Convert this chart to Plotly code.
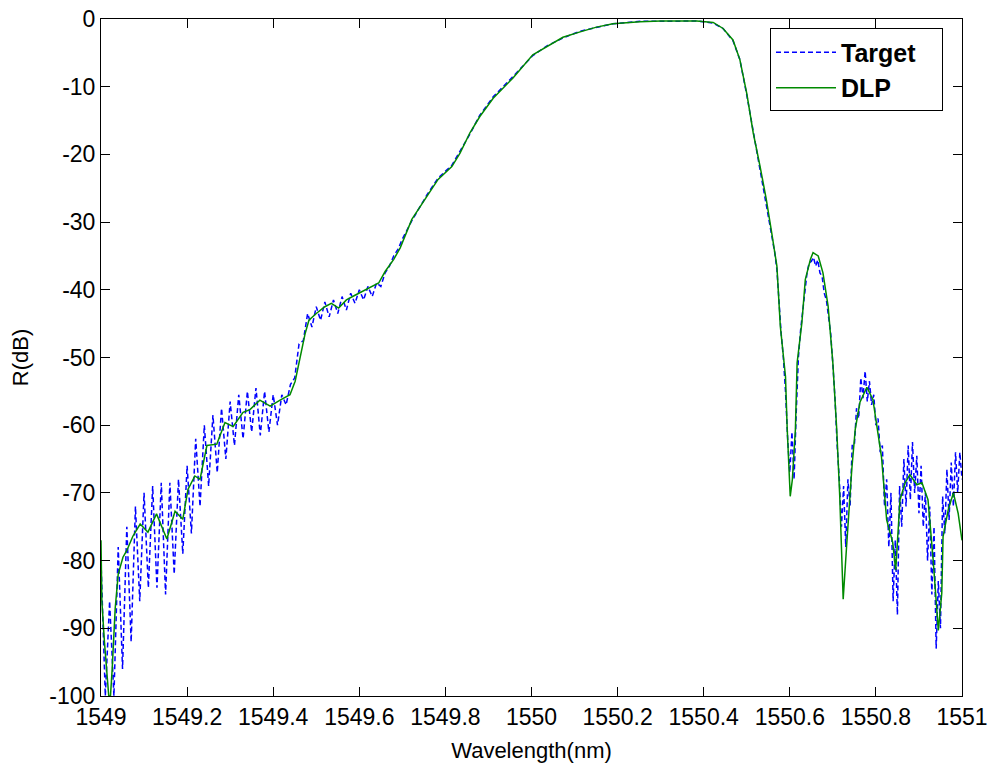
import plotly.graph_objects as go

# ---------------- data ----------------
dlp_wl = [
    1549.000, 1549.002, 1549.008, 1549.018, 1549.022, 1549.026, 1549.033, 1549.040,
    1549.051, 1549.060, 1549.074, 1549.091, 1549.109, 1549.129, 1549.153, 1549.172,
    1549.190, 1549.202, 1549.218, 1549.230, 1549.246, 1549.269, 1549.288, 1549.307,
    1549.330, 1549.346, 1549.369, 1549.393, 1549.416, 1549.439, 1549.451, 1549.462,
    1549.474, 1549.483, 1549.500, 1549.520, 1549.535, 1549.552, 1549.570, 1549.590,
    1549.615, 1549.645, 1549.660, 1549.680, 1549.695, 1549.722, 1549.757, 1549.783,
    1549.815, 1549.834, 1549.857, 1549.880, 1549.911, 1549.957, 1550.003, 1550.035,
    1550.073, 1550.113, 1550.151, 1550.189, 1550.252, 1550.300, 1550.384, 1550.422,
    1550.445, 1550.468, 1550.484, 1550.500, 1550.515, 1550.531, 1550.545, 1550.558,
    1550.570, 1550.578, 1550.590, 1550.594, 1550.601, 1550.606, 1550.613, 1550.617,
    1550.628, 1550.636, 1550.648, 1550.654, 1550.666, 1550.677, 1550.689, 1550.700,
    1550.709, 1550.716, 1550.724, 1550.732, 1550.744, 1550.752, 1550.763, 1550.779,
    1550.793, 1550.813, 1550.825, 1550.839, 1550.846, 1550.856, 1550.868, 1550.879,
    1550.895, 1550.907, 1550.921, 1550.933, 1550.942, 1550.945, 1550.953, 1550.956,
    1550.968, 1550.980, 1550.991, 1551.000,
]
dlp_db = [
    -77.0, -86.0, -92.0, -100.0, -100.0, -96.0, -87.0, -82.0,
    -79.5, -78.5, -76.4, -74.6, -75.8, -73.1, -76.8, -72.7,
    -73.9, -69.5, -67.5, -68.0, -63.0, -62.8, -59.6, -60.2,
    -58.1, -57.7, -56.3, -57.2, -56.3, -55.5, -53.5, -50.0,
    -46.5, -44.5, -43.5, -42.5, -42.0, -42.7, -41.5, -40.8,
    -40.0, -39.0, -37.3, -35.5, -33.8, -29.6, -26.2, -23.7,
    -21.8, -19.8, -16.8, -14.4, -11.7, -8.7, -5.3, -4.1,
    -2.7, -1.9, -1.2, -0.7, -0.4, -0.3, -0.3, -0.5,
    -1.4, -3.1, -6.0, -11.0, -16.8, -21.8, -26.5, -31.6,
    -36.5, -45.4, -52.8, -60.6, -70.5, -68.0, -60.6, -50.8,
    -44.9, -38.5, -35.5, -34.5, -35.0, -37.5, -42.4, -50.8,
    -60.6, -70.5, -85.7, -77.8, -66.5, -60.6, -56.6, -54.4,
    -56.2, -64.7, -74.0, -77.3, -81.4, -71.0, -68.5, -67.3,
    -68.8, -68.5, -71.0, -79.9, -88.3, -90.3, -84.8, -76.5,
    -72.5, -70.0, -73.0, -77.0,
]

target_wl = [
    1549.00, 1549.01, 1549.02, 1549.03, 1549.04, 1549.05, 1549.06, 1549.07, 1549.08, 1549.09,
    1549.10, 1549.11, 1549.12, 1549.13, 1549.14, 1549.15, 1549.16, 1549.17, 1549.18, 1549.19,
    1549.20, 1549.21, 1549.22, 1549.23, 1549.24, 1549.25, 1549.26, 1549.27, 1549.28, 1549.29,
    1549.30, 1549.31, 1549.32, 1549.33, 1549.34, 1549.35, 1549.36, 1549.37, 1549.38, 1549.39,
    1549.40, 1549.41, 1549.42, 1549.43, 1549.44, 1549.45, 1549.46, 1549.47, 1549.48, 1549.49,
    1549.50, 1549.51, 1549.52, 1549.53, 1549.54, 1549.55, 1549.56, 1549.57, 1549.58, 1549.59,
    1549.60, 1549.61, 1549.62, 1549.63, 1549.64, 1549.65, 1549.66, 1549.67, 1549.68, 1549.69,
    1549.70,
    1549.722, 1549.757, 1549.783, 1549.815, 1549.834, 1549.857, 1549.880, 1549.911, 1549.957,
    1550.003, 1550.035, 1550.073, 1550.113, 1550.151, 1550.189, 1550.252, 1550.300, 1550.384,
    1550.422, 1550.445, 1550.468, 1550.484, 1550.500, 1550.515, 1550.531, 1550.545,
    1550.560, 1550.565, 1550.570, 1550.575, 1550.580, 1550.585, 1550.590, 1550.595, 1550.600,
    1550.605, 1550.610, 1550.615, 1550.620, 1550.625, 1550.630, 1550.635, 1550.640, 1550.645,
    1550.650, 1550.655, 1550.660, 1550.665, 1550.670, 1550.675, 1550.680, 1550.685, 1550.690,
    1550.695, 1550.700, 1550.705, 1550.710, 1550.715, 1550.720, 1550.725, 1550.730, 1550.735,
    1550.740, 1550.745, 1550.750, 1550.755, 1550.760, 1550.765, 1550.770, 1550.775, 1550.780,
    1550.785, 1550.790, 1550.795, 1550.800, 1550.805, 1550.810, 1550.815, 1550.820, 1550.825,
    1550.830, 1550.835, 1550.840, 1550.845, 1550.850, 1550.855, 1550.860, 1550.865, 1550.870,
    1550.875, 1550.880, 1550.885, 1550.890, 1550.895, 1550.900, 1550.905, 1550.910, 1550.915,
    1550.920, 1550.925, 1550.930, 1550.935, 1550.940, 1550.945, 1550.950, 1550.955, 1550.960,
    1550.965, 1550.970, 1550.975, 1550.980, 1550.985, 1550.990, 1550.995, 1551.000,
]
target_db = [
    -80.0, -100.0, -86.0, -100.0, -78.0, -96.0, -75.0, -92.0, -72.0, -86.0,
    -70.0, -84.0, -69.0, -84.0, -68.5, -85.0, -68.5, -82.0, -68.0, -79.0,
    -66.0, -76.0, -62.0, -72.0, -60.0, -69.0, -58.5, -67.0, -57.5, -65.0,
    -56.5, -63.0, -55.5, -62.0, -55.0, -61.0, -54.5, -61.5, -55.0, -61.0,
    -55.5, -60.0, -55.5, -57.0, -54.0, -53.0, -48.0, -47.5, -43.5, -45.5,
    -42.5, -44.5, -41.8, -44.0, -41.5, -43.5, -41.0, -43.0, -40.5, -42.0,
    -40.0, -41.5, -39.5, -41.0, -39.0, -39.5, -37.5, -36.5, -35.0, -34.0,
    -32.5,
    -29.8, -26.0, -23.5, -21.6, -19.6, -17.0, -14.2, -11.5, -8.5,
    -5.4, -4.0, -2.8, -1.8, -1.2, -0.7, -0.35, -0.3, -0.3,
    -0.6, -1.4, -3.2, -6.0, -11.2, -16.5, -22.0, -27.0,
    -32.5, -34.5, -37.0, -42.0, -46.5, -50.0, -55.0, -62.0, -67.0,
    -61.0, -68.0, -58.0, -50.0, -46.0, -43.0, -39.5, -37.5, -36.0,
    -35.8, -35.2, -36.5, -35.6, -37.5, -38.0, -40.5, -41.5, -44.0,
    -46.5, -51.0, -56.0, -63.0, -68.0, -75.0, -69.0, -78.0, -68.0,
    -72.0, -63.0, -63.0, -57.5, -59.0, -53.0, -56.0, -52.0, -56.5,
    -53.5, -57.0, -55.5, -60.0, -59.0, -64.0, -63.0, -72.0, -68.0,
    -78.0, -70.0, -86.0, -77.0, -88.0, -69.0, -75.0, -65.0, -72.0,
    -63.0, -71.0, -62.5, -70.0, -64.5, -73.0, -66.0, -75.0, -70.0,
    -80.0, -72.0, -85.0, -75.0, -93.0, -83.0, -90.0, -70.5, -76.0,
    -66.5, -74.0, -65.5, -72.0, -64.0, -70.0, -64.0, -68.0,
]

x_tick_vals = [1549, 1549.2, 1549.4, 1549.6, 1549.8, 1550, 1550.2, 1550.4, 1550.6, 1550.8, 1551]
x_tick_text = ["1549", "1549.2", "1549.4", "1549.6", "1549.8", "1550",
               "1550.2", "1550.4", "1550.6", "1550.8", "1551"]
y_tick_vals = [0, -10, -20, -30, -40, -50, -60, -70, -80, -90, -100]
y_tick_text = ["0", "-10", "-20", "-30", "-40", "-50", "-60", "-70", "-80", "-90", "-100"]

# ---------------- figure ----------------
FONT = "Liberation Sans, Arial, Helvetica, sans-serif"
PAD = "&nbsp;&nbsp;&nbsp;"

fig = go.Figure()
fig.add_trace(go.Scatter(
    x=target_wl, y=target_db, mode="lines", name="<b>Target</b>" + PAD,
    line=dict(color="#0000ff", width=1.5, dash="5px,3px"),
))
fig.add_trace(go.Scatter(
    x=dlp_wl, y=dlp_db, mode="lines", name="<b>DLP</b>" + PAD,
    line=dict(color="#008a00", width=1.5),
))

axis_common = dict(
    showline=True, linecolor="black", linewidth=1, mirror="ticks",
    ticks="inside", ticklen=9, tickcolor="black", tickwidth=1,
    showgrid=False, zeroline=False, automargin=False,
    tickfont=dict(family=FONT, size=23, color="black"),
)

fig.update_layout(
    width=995, height=778,
    margin=dict(l=101, r=33, t=19, b=82),
    paper_bgcolor="white", plot_bgcolor="white",
    font=dict(family=FONT, color="black"),
    xaxis=dict(
        range=[1549, 1551], tickvals=x_tick_vals, ticktext=x_tick_text,
        title=dict(text="Wavelength(nm)", font=dict(family=FONT, size=22), standoff=14),
        **axis_common,
    ),
    yaxis=dict(
        range=[-100, 0], tickvals=y_tick_vals, ticktext=y_tick_text,
        title=dict(text="R(dB)", font=dict(family=FONT, size=22), standoff=14),
        **axis_common,
    ),
    legend=dict(
        x=0.777, y=0.986, xanchor="left", yanchor="top",
        bgcolor="white", bordercolor="black", borderwidth=1,
        font=dict(family=FONT, size=25, color="black"),
        itemwidth=60, tracegroupgap=0,
    ),
    showlegend=True,
)

fig.write_html("out.html")
